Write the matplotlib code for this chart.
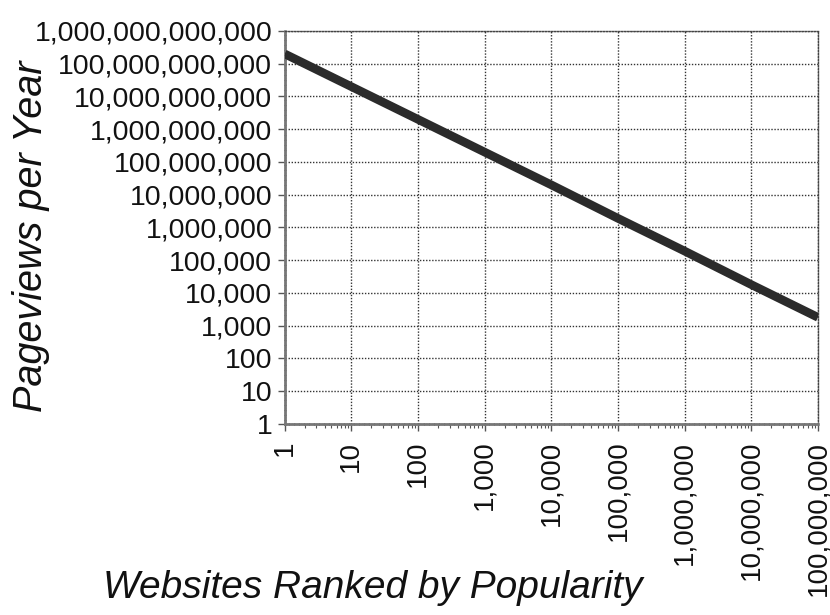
import matplotlib
matplotlib.use("Agg")
import matplotlib.pyplot as plt
from matplotlib.ticker import FixedLocator, FixedFormatter, NullFormatter, LogLocator

# Website rank vs. yearly pageviews (power-law falloff)
ranks = [1, 10, 100, 1_000, 10_000, 100_000, 1_000_000, 10_000_000, 100_000_000]
pageviews = [2.0e11, 2.0e10, 2.0e9, 2.0e8, 2.0e7, 1.9e6, 1.9e5, 1.8e4, 1.8e3]

x_ticks = [10 ** k for k in range(0, 9)]
x_tick_labels = [f"{v:,}" for v in x_ticks]
y_ticks = [10 ** k for k in range(0, 13)]
y_tick_labels = [f"{v:,}" for v in y_ticks]

plt.rcParams["font.family"] = ["Liberation Sans", "DejaVu Sans"]

fig = plt.figure(figsize=(8.30, 6.15), dpi=100)
ax = fig.add_axes([0.343, 0.3106, 0.6425, 0.639])

ax.set_xscale("log")
ax.set_yscale("log")
ax.set_xlim(1, 1e8)
ax.set_ylim(1, 1e12)

ax.plot(ranks, pageviews, color="#2b2b2b", linewidth=6.2, solid_capstyle="butt", zorder=3)

ax.xaxis.set_major_locator(FixedLocator(x_ticks))
ax.xaxis.set_major_formatter(FixedFormatter(x_tick_labels))
ax.xaxis.set_minor_locator(LogLocator(base=10, subs=(2, 3, 4, 5, 6, 7, 8, 9), numticks=20))
ax.xaxis.set_minor_formatter(NullFormatter())
ax.yaxis.set_major_locator(FixedLocator(y_ticks))
ax.yaxis.set_major_formatter(FixedFormatter(y_tick_labels))
ax.yaxis.set_minor_locator(FixedLocator([]))

ax.tick_params(axis="x", which="major", direction="out", length=5, width=1,
               color="#555555", labelsize=20, labelrotation=90, pad=7)
ax.tick_params(axis="x", which="minor", direction="out", length=3, width=0.8, color="#555555")
ax.tick_params(axis="y", which="major", direction="out", length=5, width=1,
               color="#555555", labelsize=20.5, pad=4)
for lab in ax.get_xticklabels() + ax.get_yticklabels():
    lab.set_color("#111111")

ax.grid(True, which="major", linestyle=(0, (1, 1.2)), color="#333333", linewidth=1.0)
ax.set_axisbelow(True)

for side in ("top", "right"):
    ax.spines[side].set_linestyle((0, (1, 1.2)))
    ax.spines[side].set_color("#444444")
    ax.spines[side].set_linewidth(1.0)
for side in ("left", "bottom"):
    ax.spines[side].set_linestyle((0, (1, 0.8)))
    ax.spines[side].set_color("#777777")
    ax.spines[side].set_linewidth(2.0)

fig.text(373 / 830, 1 - 588 / 615, "Websites Ranked by Popularity",
         fontsize=28, style="italic", ha="center", va="center", color="#111111")
fig.text(31 / 830, 1 - 236 / 615, "Pageviews per Year",
         fontsize=28.5, style="italic", rotation=90, ha="center", va="center", color="#111111")

fig.savefig("out.png", dpi=100)
